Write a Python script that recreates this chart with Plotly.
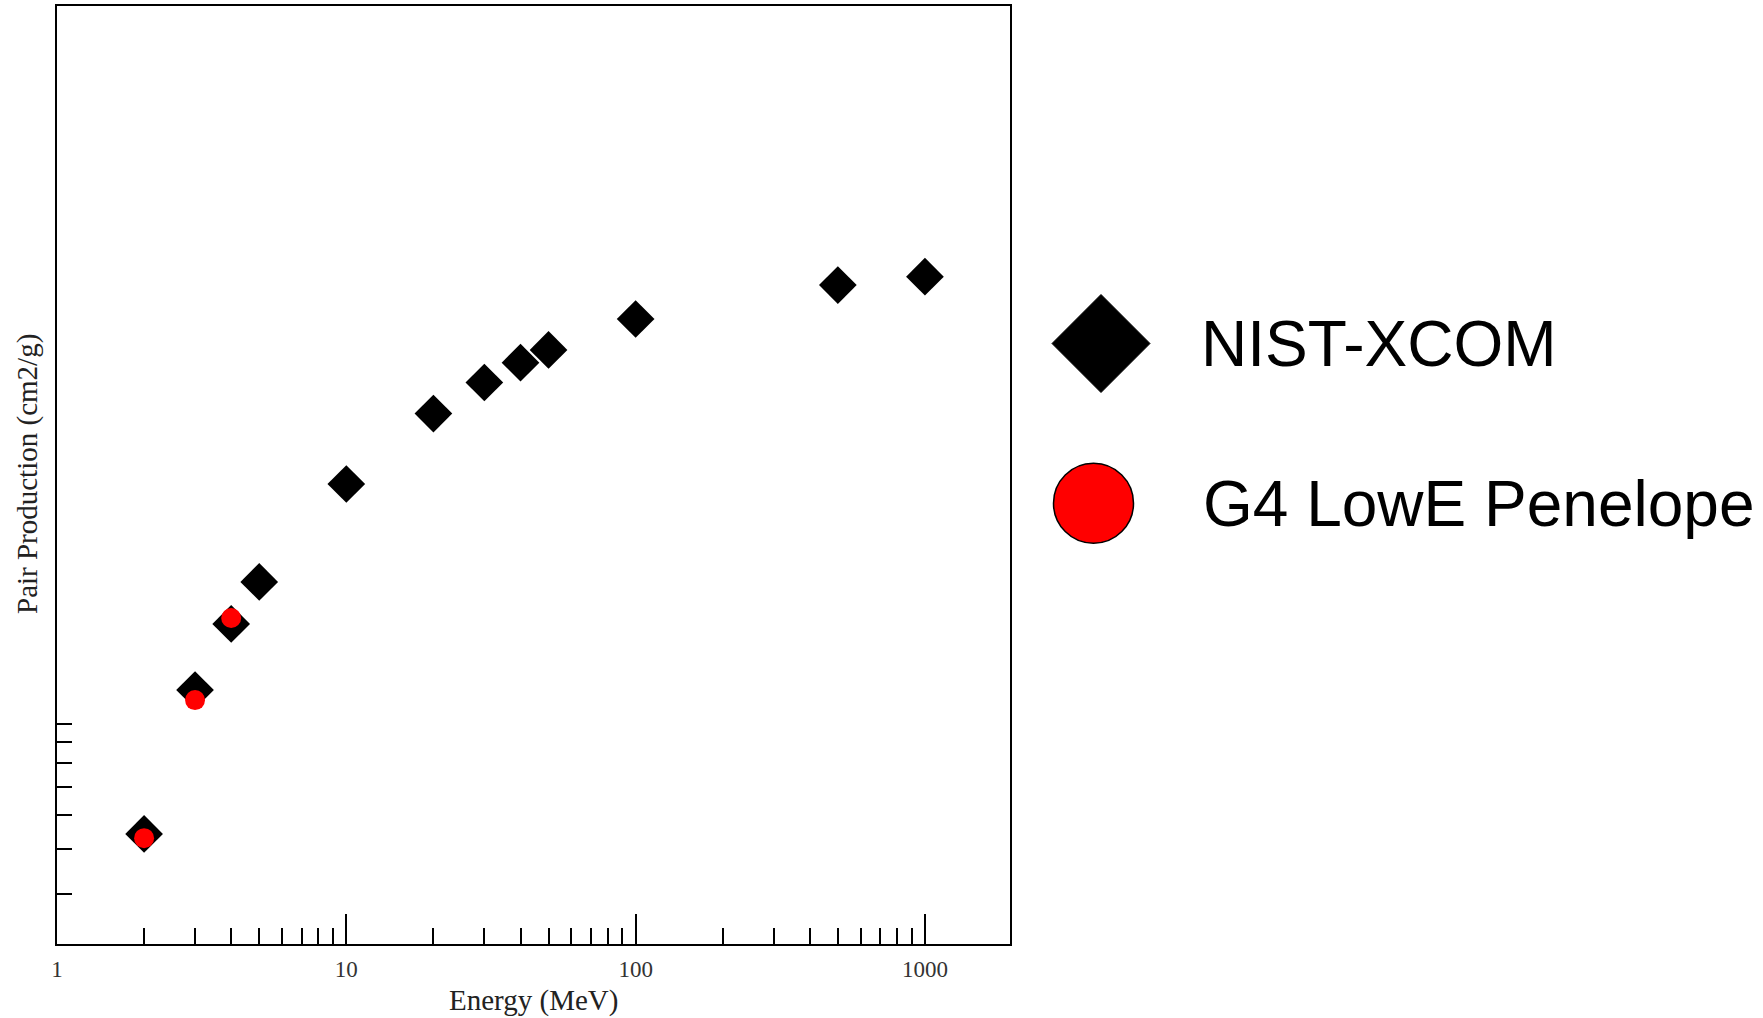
import plotly.graph_objects as go

# ---------------- data ----------------
energy_nist = [2, 3, 4, 5, 10, 20, 30, 40, 50, 100, 500, 1000]
pair_nist = [4.42, 11.24, 17.25, 22.65, 42.76, 67.5, 82.6, 93.9, 102.0, 124.7, 155.4, 164.1]

energy_g4 = [2, 3, 4]
pair_g4 = [4.30, 10.53, 17.93]

x_major_ticks = [1, 10, 100, 1000]
x_major_labels = ["1", "10", "100", "1000"]
x_minor_ticks = [m * d for d in (1, 10, 100) for m in range(2, 10)]
y_minor_ticks = [3, 4, 5, 6, 7, 8, 9]

series_names = ["NIST-XCOM", "G4 LowE Penelope"]

# ---------------- layout geometry ----------------
W, H = 1763, 1018
L, R, T, B = 57, 0, 6, 74
PW, PH = W - L - R, H - T - B
plot_right = 1010


def px(X):
    return (X - L) / PW


def py(Y):
    return (H - B - Y) / PH


SERIF = "Liberation Serif, Times New Roman, serif"
SANS = "Liberation Sans, Arial, sans-serif"

fig = go.Figure()
fig.add_trace(go.Scatter(
    x=energy_nist, y=pair_nist, mode="markers", name=series_names[0],
    marker=dict(symbol="diamond", size=29, color="black", line=dict(width=0)),
    showlegend=False,
))
fig.add_trace(go.Scatter(
    x=energy_g4, y=pair_g4, mode="markers", name=series_names[1],
    marker=dict(symbol="circle", size=20, color="#ff0000", line=dict(width=0)),
    showlegend=False,
))

axis_common = dict(showline=True, linecolor="black", linewidth=2, mirror=True,
                   showgrid=False, zeroline=False, ticks="inside",
                   tickcolor="black", tickwidth=2)

fig.update_xaxes(
    type="log", range=[0, 3.294], domain=[0, px(plot_right)],
    tickmode="array", tickvals=x_major_ticks, ticktext=x_major_labels,
    ticklen=30, ticklabelstandoff=3,
    tickfont=dict(family=SERIF, size=23, color="#333333"),
    minor=dict(tickmode="array", tickvals=x_minor_ticks, ticks="inside",
               ticklen=16, tickwidth=2, tickcolor="black", showgrid=False),
    **axis_common,
)
fig.update_yaxes(
    type="log", range=[0.3353, 2.9775],
    tickmode="array", tickvals=y_minor_ticks, ticklen=15,
    showticklabels=False,
    **axis_common,
)

# axis titles
annotations = [
    dict(text="Energy (MeV)", x=px((L + plot_right) / 2), y=py(1000),
         xref="paper", yref="paper", showarrow=False,
         font=dict(family=SERIF, size=29, color="#222222"),
         xanchor="center", yanchor="middle"),
    dict(text="Pair Production (cm2/g)", x=px(27), y=py(474),
         xref="paper", yref="paper", showarrow=False, textangle=-90,
         font=dict(family=SERIF, size=29, color="#222222"),
         xanchor="center", yanchor="middle"),
    dict(text=series_names[0], x=px(1199), y=py(344),
         xref="paper", yref="paper", showarrow=False,
         font=dict(family=SANS, size=64, color="black"),
         xanchor="left", yanchor="middle"),
    dict(text=series_names[1], x=px(1201), y=py(504),
         xref="paper", yref="paper", showarrow=False,
         font=dict(family=SANS, size=64, color="black"),
         xanchor="left", yanchor="middle"),
]

# legend keys
dcx, dcy, dr = 1101, 343.5, 49
diamond_path = "M {} {} L {} {} L {} {} L {} {} Z".format(
    px(dcx - dr), py(dcy), px(dcx), py(dcy - dr),
    px(dcx + dr), py(dcy), px(dcx), py(dcy + dr))
ccx, ccy, cr = 1093.5, 503.3, 40
shapes = [
    dict(type="path", path=diamond_path, xref="paper", yref="paper",
         fillcolor="black", line=dict(color="black", width=1)),
    dict(type="circle", xref="paper", yref="paper",
         x0=px(ccx - cr), x1=px(ccx + cr), y0=py(ccy + cr), y1=py(ccy - cr),
         fillcolor="#ff0000", line=dict(color="black", width=1.5)),
]

fig.update_layout(
    width=W, height=H,
    margin=dict(l=L, r=R, t=T, b=B, pad=0),
    paper_bgcolor="white", plot_bgcolor="white",
    annotations=annotations, shapes=shapes,
    showlegend=False,
)

fig.write_html(
    "out.html",
    config={"displayModeBar": False, "staticPlot": True},
    post_script="document.body.style.margin='0';document.body.style.padding='0';document.body.style.overflow='hidden';",
)
